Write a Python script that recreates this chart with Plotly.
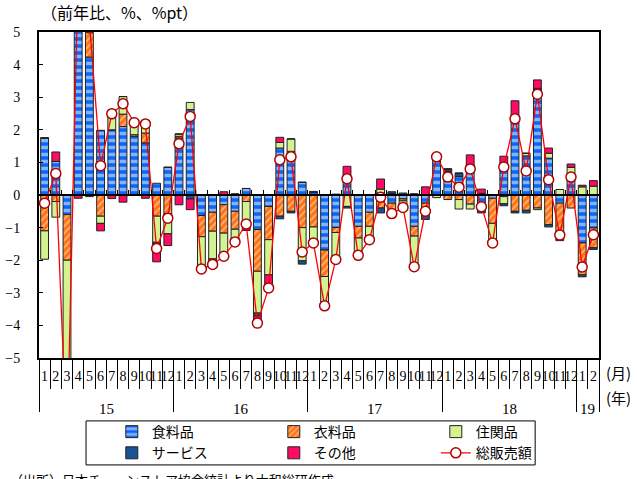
import plotly.graph_objects as go

# 日本チェーンストア協会 総販売額（前年比）と品目別寄与度, 2015年1月〜2019年2月
months = [str(m) for m in range(1, 13)] * 4 + ["1", "2"]
year_labels = ["15", "16", "17", "18", "19"]
year_centers = [5.5, 17.5, 29.5, 41.5, 48.5]
year_bounds = [-0.5, 11.5, 23.5, 35.5, 47.5, 49.5]

food = [1.75, 1.03, -0.6, 6.0, 4.23, 1.98, 2.0, 2.1, 1.8, 1.6, 0.36, 0.85,
        1.75, 2.62, -0.63, -0.53, -0.3, -0.5, 0.2, -1.06, -0.35, 1.44, 1.34, 0.39,
        0.08, -1.69, -1.0, 0.61, -0.96, -0.53, 0.06, -0.25, -0.12, -0.96, -0.25, 1.2,
        0.73, 0.57, 0.92, -0.3, -0.1, 0.96, 2.3, 1.2, 3.22, 1.13, -0.25, 0.65,
        -1.47, -1.01]
clothing = [-1.1, -0.2, -1.4, 0.5, 0.75, -0.65, 0.0, 0.38, 0.05, 0.3, -0.65, -0.57,
            0.05, 0.0, -0.65, -0.58, -0.87, -0.55, -0.2, -1.28, -1.02, -0.65, -0.5, -1.0,
            -0.98, -0.81, -0.15, 0.0, -0.36, -0.43, -0.4, -0.33, -0.06, -0.3, -0.2, 0.0,
            -0.14, -0.14, -0.28, -0.15, -0.77, -0.05, -0.5, -0.47, -0.4, -0.91, -0.95, -0.4,
            -0.98, -0.61]
household = [-0.87, -0.48, -4.3, 0.6, 0.3, -0.22, 0.6, 0.54, 0.35, 0.3, -0.8, -0.62,
             0.07, 0.22, -0.95, -0.85, -0.76, -0.4, -0.72, -1.28, -1.08, 0.17, 0.38, -1.02,
             -0.55, -0.77, -0.83, -0.35, -0.52, -0.38, 0.12, 0.05, -0.12, -0.95, -0.15, -0.08,
             0.0, -0.29, -0.15, 0.05, -0.55, -0.22, 0.0, 0.08, -0.05, 0.15, 0.17, 0.2,
             0.25, 0.27]
services = [0.0, 0.0, -0.1, 0.05, -0.05, 0.0, 0.0, 0.0, 0.02, 0.05, -0.05, 0.0,
            0.0, -0.12, -0.04, 0.0, -0.05, 0.03, 0.0, -0.08, 0.0, -0.08, -0.05, -0.1,
            0.0, -0.13, 0.02, -0.05, 0.0, -0.03, -0.15, 0.05, 0.06, 0.03, -0.15, 0.05,
            0.07, 0.1, 0.0, -0.1, -0.05, -0.06, -0.05, -0.08, 0.05, -0.07, -0.1, 0.0,
            -0.06, -0.05]
other = [0.0, 0.29, -1.4, -0.1, 0.0, -0.23, -0.11, -0.22, 0.0, -0.1, -0.55, -0.36,
         -0.3, -0.33, 0.0, -0.16, 0.1, 0.0, -0.17, -0.2, -0.4, 0.16, 0.0, 0.0,
         0.03, 0.0, 0.0, 0.27, 0.0, 0.0, 0.31, -0.1, -0.13, 0.0, 0.25, 0.0,
         0.0, 0.0, 0.31, 0.13, 0.0, 0.23, 0.59, 0.0, 0.26, 0.16, -0.1, 0.1,
         0.05, 0.17]
total = [-0.25, 0.66, -7.8, 7.0, 5.3, 0.9, 2.49, 2.8, 2.22, 2.18, -1.64, -0.71,
         1.57, 2.41, -2.27, -2.13, -1.88, -1.44, -0.89, -3.93, -2.85, 1.08, 1.17, -1.75,
         -1.47, -3.4, -1.98, 0.5, -1.85, -1.37, -0.07, -0.57, -0.38, -2.2, -0.5, 1.17,
         0.55, 0.24, 0.8, -0.36, -1.47, 0.86, 2.34, 0.74, 3.09, 0.47, -1.23, 0.55,
         -2.21, -1.22]

x = list(range(len(months)))
SERIF = "Liberation Serif, DejaVu Serif, serif"
JP = "Noto Sans CJK JP, sans-serif"
outline = dict(color="#222222", width=1)

fig = go.Figure()
fig.add_bar(x=x, y=food, name="食料品",
            marker=dict(color="#0A66F5", line=outline,
                        pattern=dict(shape="-", fgcolor="white", bgcolor="#0A66F5",
                                     size=7, solidity=0.5)))
fig.add_bar(x=x, y=clothing, name="衣料品",
            marker=dict(color="#FF7414", line=outline,
                        pattern=dict(shape="/", fgcolor="white", bgcolor="#FF7414",
                                     size=5, solidity=0.3)))
fig.add_bar(x=x, y=household, name="住関品",
            marker=dict(color="#D3F290", line=outline))
fig.add_bar(x=x, y=services, name="サービス",
            marker=dict(color="#1B5296", line=outline))
fig.add_bar(x=x, y=other, name="その他",
            marker=dict(color="#FF0A64", line=outline))
fig.add_scatter(x=x, y=total, name="総販売額", mode="lines+markers",
                line=dict(color="#FF0000", width=1.3),
                marker=dict(symbol="circle", size=10, color="white",
                            line=dict(color="#B00000", width=1.5)))

# Helper axes: zero-line ticks, month separators, year separators
for ax in ("x2", "x3", "x4"):
    fig.add_scatter(x=x, y=total, xaxis=ax, yaxis="y", mode="none",
                    showlegend=False, hoverinfo="skip")

boundaries = [i + 0.5 for i in range(len(months) - 1)]
month_seps = [b for b in boundaries if b not in year_bounds]
xr = [-0.5, len(months) - 0.5]

fig.update_layout(
    width=637, height=479,
    margin=dict(l=39, r=38, t=32, b=121, autoexpand=False),
    paper_bgcolor="white", plot_bgcolor="white",
    barmode="relative", bargap=0.3,
    font=dict(family=SERIF, size=14, color="black"),
    xaxis=dict(range=xr, tickmode="array", tickvals=x, ticktext=months,
               ticks="", showgrid=False, zeroline=False, tickangle=0,
               automargin=False, ticklabelstandoff=4,
               showline=True, mirror=True, linecolor="black", linewidth=2,
               tickfont=dict(family=SERIF, size=14)),
    xaxis2=dict(overlaying="x", anchor="free", position=0.5, range=xr,
                tickmode="array", tickvals=boundaries, ticks="inside", ticklen=4,
                tickcolor="black", showticklabels=False, showgrid=False,
                zeroline=False, showline=True, linecolor="black", linewidth=1.5),
    xaxis3=dict(overlaying="x", anchor="y", side="bottom", range=xr,
                tickmode="array", tickvals=month_seps, ticks="outside", ticklen=30,
                tickcolor="black", tickwidth=1, showticklabels=False,
                showgrid=False, zeroline=False, showline=False),
    xaxis4=dict(overlaying="x", anchor="y", side="bottom", range=xr,
                tickmode="array", tickvals=year_bounds, ticks="outside", ticklen=53,
                tickcolor="black", tickwidth=1, showticklabels=False,
                showgrid=False, zeroline=False, showline=False),
    yaxis=dict(range=[-5, 5], tickmode="array", tickvals=list(range(-5, 6)),
               ticks="inside", ticklen=4, tickcolor="black",
               showgrid=False, zeroline=False, automargin=False,
               showline=True, mirror=True, linecolor="black", linewidth=2,
               tickfont=dict(family=SERIF, size=14), ticklabelstandoff=14),
    legend=dict(orientation="h", x=0.13, xanchor="left", y=-0.178, yanchor="top",
                entrywidth=117, entrywidthmode="pixels",
                borderwidth=0, bgcolor="rgba(0,0,0,0)",
                font=dict(family=JP, size=14), traceorder="normal"),
    showlegend=True,
    shapes=[dict(type="rect", xref="paper", yref="paper",
                 x0=0.084, x1=0.886, y0=-0.328, y1=-0.193,
                 line=dict(color="black", width=1), fillcolor="rgba(0,0,0,0)")],
)

annotations = [
    dict(text="（前年比、%、%pt）", xref="paper", yref="paper", x=0.0, y=1.0,
         xanchor="left", yanchor="bottom", yshift=6, showarrow=False,
         font=dict(family=JP, size=16)),
    dict(text="(月)", xref="paper", yref="paper", x=1.034, y=0.0,
         xanchor="center", yanchor="middle", yshift=-14, showarrow=False,
         font=dict(family=JP, size=15)),
    dict(text="(年)", xref="paper", yref="paper", x=1.034, y=0.0,
         xanchor="center", yanchor="middle", yshift=-39, showarrow=False,
         font=dict(family=JP, size=15)),
    dict(text="（出所）日本チェーンストア協会統計より大和総研作成", xref="paper", yref="paper",
         x=-0.055, y=0.0, xanchor="left", yanchor="middle", yshift=-121,
         showarrow=False, font=dict(family=JP, size=13)),
]
for lab, cx in zip(year_labels, year_centers):
    annotations.append(dict(text=lab, xref="x", yref="paper", x=cx, y=0.0,
                            xanchor="center", yanchor="middle", yshift=-51,
                            showarrow=False, font=dict(family=SERIF, size=15)))
fig.update_layout(annotations=annotations)

fig.write_html("out.html")
